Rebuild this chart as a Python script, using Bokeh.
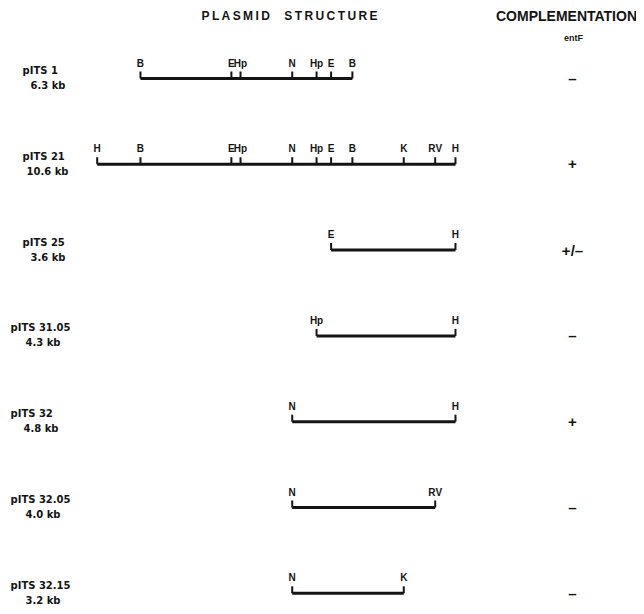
from bokeh.plotting import figure
from bokeh.models import Range1d, Label
from bokeh.embed import file_html
from bokeh.resources import INLINE
from bokeh.core.properties import value

# ---- data ----
site_labels = ["H", "B", "E", "Hp", "N", "Hp", "E", "B", "K", "RV", "H"]
site_kb = [0.0, 1.28, 3.97, 4.24, 5.77, 6.49, 6.92, 7.55, 9.07, 10.0, 10.6]

plasmids = ["pITS 1", "pITS 21", "pITS 25", "pITS 31.05", "pITS 32", "pITS 32.05", "pITS 32.15"]
sizes = ["6.3 kb", "10.6 kb", "3.6 kb", "4.3 kb", "4.8 kb", "4.0 kb", "3.2 kb"]
plasmid_sites = [
    [1, 2, 3, 4, 5, 6, 7],
    [0, 1, 2, 3, 4, 5, 6, 7, 8, 9, 10],
    [6, 10],
    [5, 10],
    [4, 10],
    [4, 9],
    [4, 8],
]
complementation = ["–", "+", "+/–", "–", "+", "–", "–"]

# ---- layout ----
W, H = 636, 606
PX_PER_KB = 33.8
X0_PX = 96.7            # px of kb 0
ROW0, ROW_STEP = 78, 85.8
TICK = 7
name_left = [22, 22, 22, 10, 10, 10, 10]
size_left = [30, 26, 30, 25, 23, 25, 25]
INK = "#141414"
FONT = value("Liberation Sans")
NAME_FONT = value("DejaVu Sans")
SITE_FONT = value("Liberation Sans")


def kb_of(px):
    return (px - X0_PX) / PX_PER_KB


p = figure(width=W, height=H, output_backend="svg", toolbar_location=None,
           x_range=Range1d(kb_of(0), kb_of(W)), y_range=Range1d(H, 0),
           min_border=0)
p.axis.visible = False
p.grid.visible = False
p.outline_line_color = None
p.background_fill_color = "white"
p.border_fill_color = "white"

comp_x = kb_of(572)

for i, name in enumerate(plasmids):
    y = ROW0 + i * ROW_STEP
    idx = plasmid_sites[i]
    xs = [site_kb[j] for j in idx]
    labs = [site_labels[j] for j in idx]
    p.segment(x0=[xs[0]], y0=[y], x1=[xs[-1]], y1=[y], line_width=3, line_color=INK)
    p.segment(x0=xs, y0=[y] * len(xs), x1=xs, y1=[y - TICK] * len(xs),
              line_width=2, line_color=INK)
    p.text(x=xs, y=[y - TICK - 3] * len(xs), text=labs, text_align="center",
           text_baseline="bottom", text_font=SITE_FONT, text_font_style="bold",
           text_font_size="10px", text_color=INK)
    p.text(x=[kb_of(name_left[i])], y=[y - 8], text=[name], text_align="left",
           text_baseline="middle", text_font=NAME_FONT, text_font_style="bold",
           text_font_size="10px", text_color=INK)
    p.text(x=[kb_of(size_left[i])], y=[y + 7], text=[sizes[i]], text_align="left",
           text_baseline="middle", text_font=NAME_FONT, text_font_style="bold",
           text_font_size="10px", text_color=INK)
    p.text(x=[comp_x], y=[y], text=[complementation[i]], text_align="center",
           text_baseline="middle", text_font=FONT, text_font_style="bold",
           text_font_size="15px", text_color=INK)

title_text = "\u2009".join("PLASMID") + "\u2003\u2009" + "\u2009".join("STRUCTURE")
p.add_layout(Label(x=kb_of(289), y=15, text=title_text,
                   text_align="center", text_baseline="middle", text_font="Liberation Sans",
                   text_font_style="bold", text_font_size="12px", text_color=INK))
p.add_layout(Label(x=kb_of(566), y=15, text="COMPLEMENTATION",
                   text_align="center", text_baseline="middle", text_font="Liberation Sans",
                   text_font_style="bold", text_font_size="14px", text_color=INK))
p.add_layout(Label(x=kb_of(573), y=37, text="entF",
                   text_align="center", text_baseline="middle", text_font="Liberation Sans",
                   text_font_style="bold", text_font_size="9px", text_color=INK))

open("out.html", "w").write(file_html(p, INLINE))
